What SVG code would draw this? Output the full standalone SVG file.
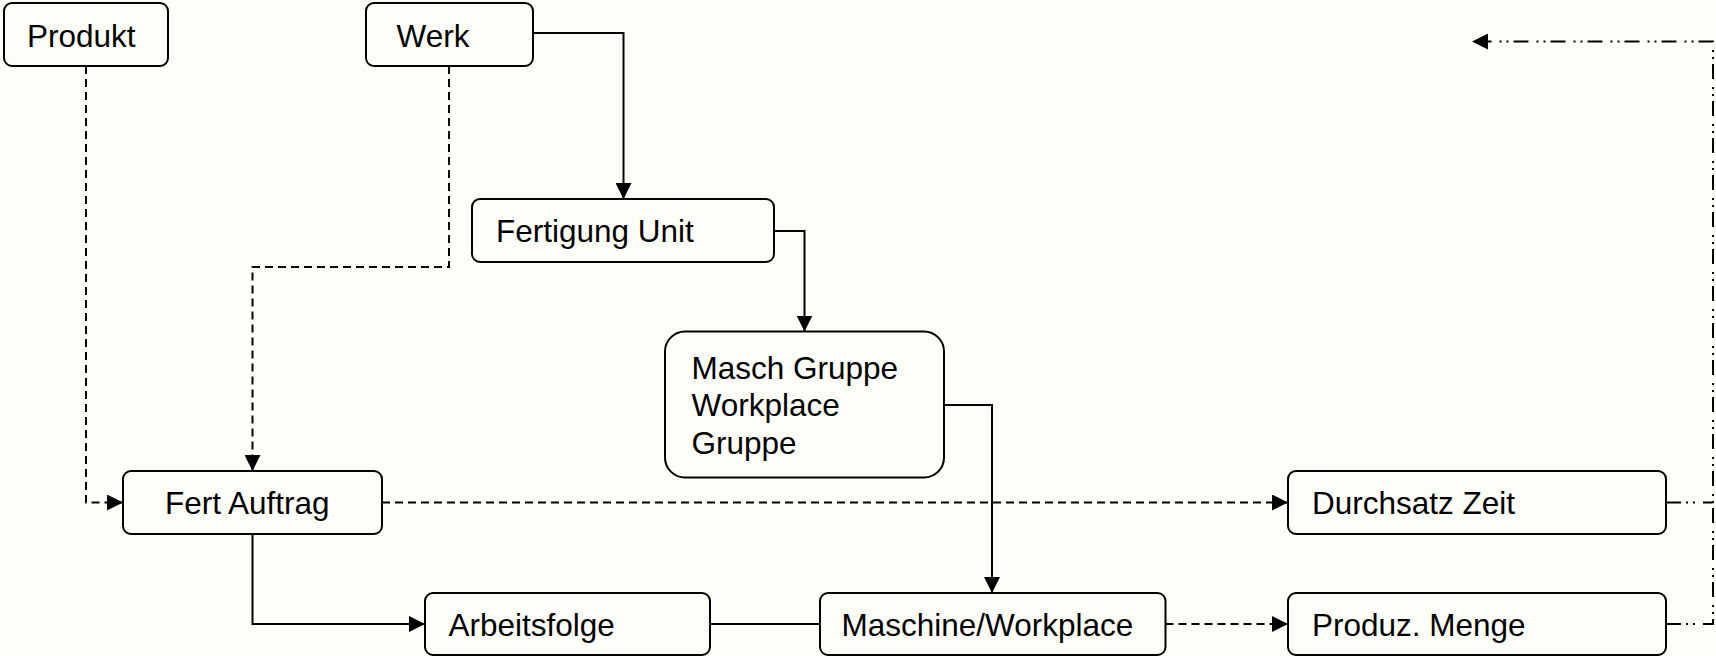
<svg xmlns="http://www.w3.org/2000/svg" width="1716" height="656" viewBox="0 0 1716 656">
  <style>
    .box { fill: #fefef9; stroke: #000; stroke-width: 2; }
    .lbl { font-family: "Liberation Sans", Arial, sans-serif; font-size: 31.5px; fill: #000; }
    .edge { fill: none; stroke: #000; stroke-width: 2; }
    .dash { stroke-dasharray: 8 5; }
    .dashdot { stroke-dasharray: 15 5 2 5 2 8; }
  </style>
  <defs>
    <marker id="arrow" viewBox="0 0 16 16" refX="16" refY="8" markerWidth="16" markerHeight="16" orient="auto" markerUnits="userSpaceOnUse">
      <path d="M0,0 L16,8 L0,16 z" fill="#000" stroke="none"/>
    </marker>
  </defs>

  <rect x="0" y="0" width="1716" height="656" fill="#fefef9"/>

  <!-- connectors -->
  <g id="connectors">
    <path class="edge dash" d="M86,66 V502.5 H123" marker-end="url(#arrow)"/>
    <path class="edge dash" d="M449,66 V267 H252.5 V471" marker-end="url(#arrow)"/>
    <path class="edge" d="M533,33 H623.5 V199" marker-end="url(#arrow)"/>
    <path class="edge" d="M774,231 H804.5 V331.5" marker-end="url(#arrow)"/>
    <path class="edge" d="M944,405 H992 V593" marker-end="url(#arrow)"/>
    <path class="edge" d="M252.5,534 V624 H425" marker-end="url(#arrow)"/>
    <path class="edge" d="M710,624 H820"/>
    <path class="edge dash" d="M382,502.5 H1288" marker-end="url(#arrow)"/>
    <path class="edge dash" d="M1165.5,624 H1288" marker-end="url(#arrow)"/>
    <path class="edge dashdot" d="M1666,502.5 H1713"/>
    <path class="edge dashdot" d="M1666,624 H1713 V41.5 H1472" marker-end="url(#arrow)"/>
  </g>

  <!-- nodes -->
  <g id="produkt">
    <rect class="box" x="4" y="3" width="164" height="63" rx="8"/>
    <text class="lbl" x="27" y="46.5">Produkt</text>
  </g>
  <g id="werk">
    <rect class="box" x="366" y="3" width="167" height="63" rx="8"/>
    <text class="lbl" x="396.5" y="46.5">Werk</text>
  </g>
  <g id="fertigung-unit">
    <rect class="box" x="472" y="199" width="302" height="63" rx="8"/>
    <text class="lbl" x="496" y="242">Fertigung Unit</text>
  </g>
  <g id="masch-gruppe">
    <rect class="box" x="665" y="331.5" width="279" height="146" rx="20"/>
    <text class="lbl" x="691.5" y="378.5">Masch Gruppe</text>
    <text class="lbl" x="691.5" y="416">Workplace</text>
    <text class="lbl" x="691.5" y="453.5">Gruppe</text>
  </g>
  <g id="fert-auftrag">
    <rect class="box" x="123" y="471" width="259" height="63" rx="8"/>
    <text class="lbl" x="165" y="514">Fert Auftrag</text>
  </g>
  <g id="durchsatz-zeit">
    <rect class="box" x="1288" y="471" width="378" height="63" rx="8"/>
    <text class="lbl" x="1312" y="514">Durchsatz Zeit</text>
  </g>
  <g id="arbeitsfolge">
    <rect class="box" x="425" y="593" width="285" height="62" rx="8"/>
    <text class="lbl" x="448.5" y="635.5">Arbeitsfolge</text>
  </g>
  <g id="maschine-workplace">
    <rect class="box" x="820" y="593" width="345.5" height="62" rx="8"/>
    <text class="lbl" x="841.5" y="635.5">Maschine/Workplace</text>
  </g>
  <g id="produz-menge">
    <rect class="box" x="1288" y="593" width="378" height="62" rx="8"/>
    <text class="lbl" x="1312" y="635.5">Produz. Menge</text>
  </g>
</svg>
